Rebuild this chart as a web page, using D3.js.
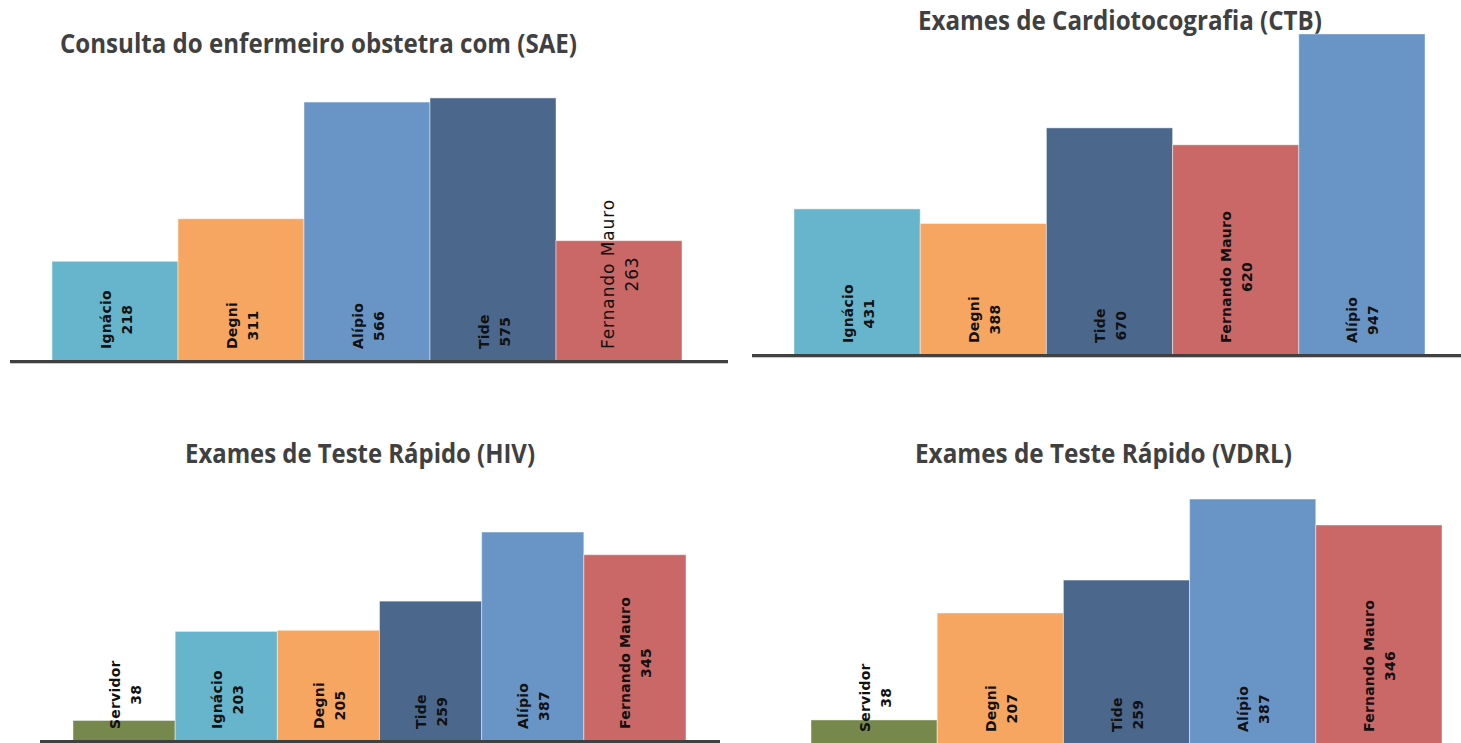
<!DOCTYPE html>
<html>
<head>
<meta charset="utf-8">
<script src="https://cdn.jsdelivr.net/npm/d3@7/dist/d3.min.js"></script>
<style>
  html, body { margin: 0; padding: 0; background: #ffffff; }
  svg { display: block; }
</style>
</head>
<body>
<svg id="chart" width="1461" height="743"></svg>
<script>
// ---------- DATA ----------
const saeTitle = "Consulta do enfermeiro obstetra com (SAE)";
const saeNames = ["Ignácio", "Degni", "Alípio", "Tide", "Fernando Mauro"];
const saeValues = [218, 311, 566, 575, 263];

const ctbTitle = "Exames de Cardiotocografia (CTB)";
const ctbNames = ["Ignácio", "Degni", "Tide", "Fernando Mauro", "Alípio"];
const ctbValues = [431, 388, 670, 620, 947];

const hivTitle = "Exames de Teste Rápido (HIV)";
const hivNames = ["Servidor", "Ignácio", "Degni", "Tide", "Alípio", "Fernando Mauro"];
const hivValues = [38, 203, 205, 259, 387, 345];

const vdrlTitle = "Exames de Teste Rápido (VDRL)";
const vdrlNames = ["Servidor", "Degni", "Tide", "Alípio", "Fernando Mauro"];
const vdrlValues = [38, 207, 259, 387, 346];

const people = ["Ignácio", "Degni", "Alípio", "Tide", "Fernando Mauro", "Servidor"];
const peopleColors = ["#66B5CC", "#F6A661", "#6894C6", "#4B678C", "#C96867", "#76884C"];

// ---------- LAYOUT ----------
const color = d3.scaleOrdinal().domain(people).range(peopleColors);

const panels = [
  { title: saeTitle, names: saeNames, values: saeValues,
    titleX: 318.5, titleY: 53, titleW: 517,
    x0: 52, x1: 682, base: 361, yMax: 600, yTop: 86.5,
    lineX0: 10, lineX1: 728, regularLabel: ["Fernando Mauro"] },
  { title: ctbTitle, names: ctbNames, values: ctbValues,
    titleX: 1120, titleY: 30, titleW: 404,
    x0: 794, x1: 1425, base: 355, yMax: 1000, yTop: 16,
    lineX0: 752, lineX1: 1461, regularLabel: [] },
  { title: hivTitle, names: hivNames, values: hivValues,
    titleX: 360, titleY: 463, titleW: 350,
    x0: 73, x1: 686, base: 741, yMax: 400, yTop: 525,
    lineX0: 40, lineX1: 720, regularLabel: [] },
  { title: vdrlTitle, names: vdrlNames, values: vdrlValues,
    titleX: 1103.5, titleY: 463, titleW: 377,
    x0: 811, x1: 1442, base: 744, yMax: 400, yTop: 490.8,
    lineX0: 790, lineX1: 1461, regularLabel: [] }
];

const svg = d3.select("#chart");

panels.forEach(p => {
  const g = svg.append("g");
  const x = d3.scaleBand().domain(p.names).range([p.x0, p.x1]).padding(0);
  const y = d3.scaleLinear().domain([0, p.yMax]).range([p.base, p.yTop]);
  const data = p.names.map((n, i) => ({ name: n, value: p.values[i] }));

  // title
  g.append("text")
    .attr("x", p.titleX)
    .attr("y", p.titleY)
    .attr("text-anchor", "middle")
    .attr("font-family", "'Liberation Sans Narrow', 'Open Sans', sans-serif")
    .attr("font-weight", "bold")
    .attr("font-size", 26)
    .attr("fill", "#404040")
    .attr("textLength", p.titleW)
    .attr("lengthAdjust", "spacingAndGlyphs")
    .text(p.title);

  // bars
  g.selectAll("rect.bar")
    .data(data)
    .join("rect")
    .attr("class", "bar")
    .attr("x", d => x(d.name))
    .attr("y", d => y(d.value))
    .attr("width", x.bandwidth())
    .attr("height", d => y(0) - y(d.value))
    .attr("fill", d => color(d.name))
    .attr("stroke", "rgba(255,255,255,0.45)")
    .attr("stroke-width", 1);

  // baseline
  g.append("line")
    .attr("x1", p.lineX0).attr("x2", p.lineX1)
    .attr("y1", y(0) + 0.5).attr("y2", y(0) + 0.5)
    .attr("stroke", "#404040").attr("stroke-width", 3);
  g.append("line")
    .attr("x1", p.lineX0).attr("x2", p.lineX1)
    .attr("y1", y(0) + 2.5).attr("y2", y(0) + 2.5)
    .attr("stroke", "#c8c8c8").attr("stroke-width", 1);

  // labels
  data.forEach(d => {
    const regular = p.regularLabel.includes(d.name);
    const fs = regular ? 17 : 14;
    const sep = regular ? 12 : 10.5;
    const cx = x(d.name) + x.bandwidth() / 2 + 1;
    const lg = g.append("g")
      .attr("transform", `translate(${cx},${y(0) - 12}) rotate(-90)`);
    const mk = (txt, yy) => lg.append("text")
      .attr("y", yy)
      .attr("dominant-baseline", "central")
      .attr("text-anchor", "middle")
      .attr("font-family", "'DejaVu Sans', Verdana, sans-serif")
      .attr("font-weight", regular ? "normal" : "bold")
      .attr("font-size", fs)
      .attr("letter-spacing", regular ? 0.9 : 0.2)
      .attr("fill", "#111")
      .text(txt);
    const t1 = mk(d.name, -sep);
    const t2 = mk(d3.format("d")(d.value), sep);
    const w = Math.max(t1.node().getComputedTextLength(), t2.node().getComputedTextLength());
    t1.attr("x", w / 2);
    t2.attr("x", w / 2);
  });
});
</script>
</body>
</html>
